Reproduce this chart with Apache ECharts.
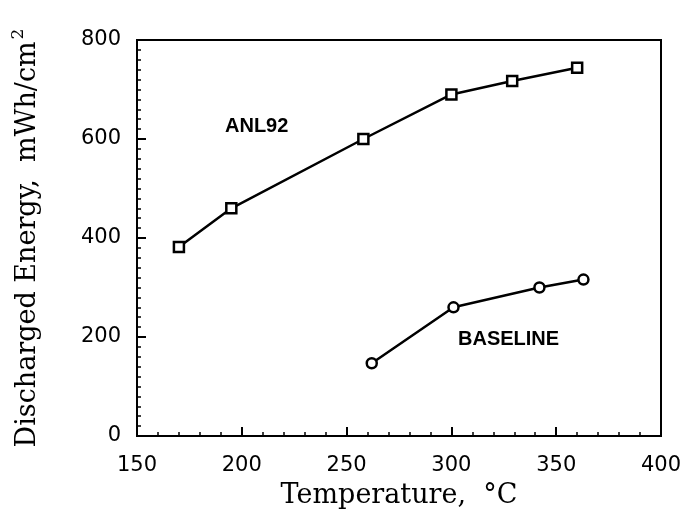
<!DOCTYPE html>
<html>
<head>
<meta charset="utf-8">
<script src="https://cdn.jsdelivr.net/npm/echarts@6/dist/echarts.min.js"></script>
<style>
  html, body { margin: 0; padding: 0; background: #fff; }
  #chart { width: 691px; height: 520px; }
</style>
</head>
<body>
<div id="chart"></div>
<script>
// values
const anlTemp = [170, 195, 258, 300, 329, 360];
const anlEnergy = [382, 460, 600, 690, 717, 744];
const baseTemp = [262, 301, 342, 363];
const baseEnergy = [147, 260, 300, 316];
const xTicks = [150, 200, 250, 300, 350, 400];
const yTicks = [0, 200, 400, 600, 800];

function pairs(xs, ys) {
  return xs.map((x, i) => [x, ys[i]]);
}

const chart = echarts.init(document.getElementById('chart'));

const tickFont = { color: '#000', fontFamily: 'DejaVu Sans', fontSize: 21 };
const serif = 'DejaVu Serif';

const option = {
  backgroundColor: '#fff',
  animation: false,
  grid: {
    left: 137, right: 30, top: 40, bottom: 84,
    show: true, borderColor: '#000', borderWidth: 2
  },
  xAxis: {
    type: 'value',
    min: xTicks[0], max: xTicks[xTicks.length - 1], interval: 50,
    axisLine: { lineStyle: { color: '#000', width: 2 } },
    axisTick: { inside: true, length: 9, lineStyle: { color: '#000', width: 2 } },
    minorTick: { show: true, splitNumber: 5, length: 4, lineStyle: { color: '#000', width: 1.5 } },
    splitLine: { show: false },
    axisLabel: Object.assign({ margin: 19 }, tickFont),
    name: 'Temperature,  \u00B0C',
    nameLocation: 'middle',
    nameGap: 46,
    nameTextStyle: { color: '#000', fontFamily: serif, fontSize: 27 }
  },
  yAxis: {
    type: 'value',
    min: yTicks[0], max: yTicks[yTicks.length - 1], interval: 200,
    axisLine: { lineStyle: { color: '#000', width: 2 } },
    axisTick: { inside: true, length: 9, lineStyle: { color: '#000', width: 2 } },
    minorTick: { show: true, splitNumber: 10, length: 4, lineStyle: { color: '#000', width: 1.5 } },
    splitLine: { show: false },
    axisLabel: Object.assign({ margin: 16 }, tickFont),
    name: 'Discharged Energy,  mWh/cm{sup|2}',
    nameLocation: 'middle',
    nameGap: 92,
    nameTextStyle: {
      color: '#000', fontFamily: serif, fontSize: 27,
      rich: { sup: { fontFamily: serif, fontSize: 17, padding: [0, 0, 18, 2], color: '#000' } }
    }
  },
  graphic: [
    { type: 'text', left: 225, top: 116,
      style: { text: 'ANL92', fill: '#000', font: 'bold 20px "Liberation Sans"' } },
    { type: 'text', left: 458, top: 329,
      style: { text: 'BASELINE', fill: '#000', font: 'bold 20px "Liberation Sans"' } }
  ],
  series: [
    {
      name: 'ANL92',
      type: 'line',
      data: pairs(anlTemp, anlEnergy),
      symbol: 'rect',
      symbolSize: 10,
      showAllSymbol: true,
      lineStyle: { color: '#000', width: 2.5 },
      itemStyle: { color: '#fff', borderColor: '#000', borderWidth: 2.5 }
    },
    {
      name: 'BASELINE',
      type: 'line',
      data: pairs(baseTemp, baseEnergy),
      symbol: 'circle',
      symbolSize: 10,
      showAllSymbol: true,
      lineStyle: { color: '#000', width: 2.5 },
      itemStyle: { color: '#fff', borderColor: '#000', borderWidth: 2.5 }
    }
  ]
};

chart.setOption(option);
</script>
</body>
</html>
